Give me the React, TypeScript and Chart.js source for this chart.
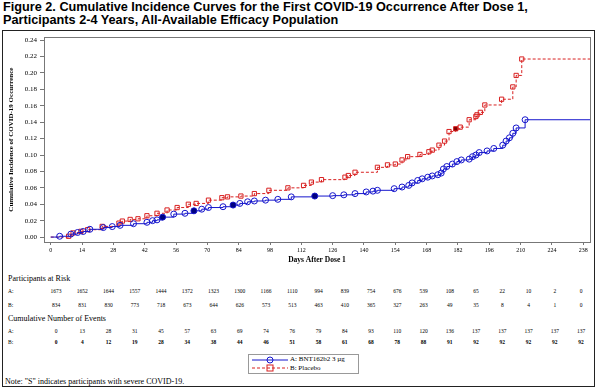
import React, { useEffect, useRef } from 'react';
import { Chart, registerables } from 'chart.js';

Chart.register(...registerables);

const SERIF = '"Liberation Serif", "DejaVu Serif", serif';
const SANS = '"Liberation Sans", Arial, sans-serif';

const titleLines = [
  'Figure 2. Cumulative Incidence Curves for the First COVID-19 Occurrence After Dose 1,',
  'Participants 2-4 Years, All-Available Efficacy Population',
];

const xTicks = [0, 14, 28, 42, 56, 70, 84, 98, 112, 126, 140, 154, 168, 182, 196, 210, 224, 238];
const yTicks = [0, 0.02, 0.04, 0.06, 0.08, 0.1, 0.12, 0.14, 0.16, 0.18, 0.2, 0.22, 0.24];

// Group A: BNT162b2 3 µg (event days, cumulative incidence, severe flag)
const daysA = [4, 9, 12, 14.5, 17.5, 23.5, 27.5, 31, 37, 43, 45.5, 47.5, 50, 55, 60, 64, 67.5, 70.5, 77, 81.5, 84.5, 88, 91, 96, 101.5, 107.5, 118, 126, 131, 136, 141, 144, 146, 153.5, 157, 160, 161.5, 164, 166, 168.5, 170.5, 173, 174.5, 175.5, 177, 179.5, 181.5, 183.5, 187, 188.5, 190, 191.5, 195, 198, 202, 203.5, 205, 206.5, 208, 212];
const incA = [0.001, 0.0036, 0.0056, 0.0068, 0.0095, 0.0116, 0.0128, 0.0143, 0.0163, 0.018, 0.02, 0.021, 0.0243, 0.028, 0.029, 0.032, 0.034, 0.036, 0.037, 0.039, 0.041, 0.043, 0.044, 0.045, 0.046, 0.049, 0.05, 0.0505, 0.0515, 0.053, 0.055, 0.056, 0.057, 0.059, 0.061, 0.063, 0.066, 0.069, 0.071, 0.073, 0.0745, 0.076, 0.078, 0.083, 0.086, 0.089, 0.092, 0.094, 0.095, 0.098, 0.1, 0.103, 0.105, 0.108, 0.112, 0.117, 0.121, 0.1265, 0.133, 0.143];
const severeDaysA = [50, 64, 81.5, 118];

// Group B: Placebo
const daysB = [8, 10, 13.5, 16.5, 23, 30.5, 32, 35.5, 39, 43, 47.5, 52, 56.5, 61.5, 65, 70.5, 76.5, 79, 85, 91, 97.5, 106, 113, 116.5, 121, 131.5, 133, 136, 146, 150.5, 154, 157, 159.5, 165, 169, 170.5, 173.5, 176, 178, 181, 183, 187, 190, 190.5, 192, 194, 201.5, 206.5, 208, 210.5];
const incB = [0.001, 0.005, 0.007, 0.009, 0.013, 0.017, 0.0195, 0.0215, 0.0223, 0.026, 0.029, 0.033, 0.036, 0.04, 0.041, 0.045, 0.048, 0.049, 0.05, 0.053, 0.057, 0.06, 0.063, 0.067, 0.07, 0.073, 0.075, 0.079, 0.085, 0.088, 0.089, 0.094, 0.098, 0.1007, 0.104, 0.106, 0.112, 0.117, 0.1286, 0.132, 0.134, 0.143, 0.147, 0.149, 0.152, 0.161, 0.168, 0.183, 0.197, 0.217];
const severeDaysB = [181];

const xMin = -3;
const xMax = 241;

const atRiskA = [1673, 1652, 1644, 1557, 1444, 1372, 1323, 1300, 1166, 1110, 994, 839, 754, 676, 539, 108, 65, 22, 10, 2, 0];
const atRiskB = [834, 831, 830, 773, 718, 673, 644, 626, 573, 513, 463, 410, 365, 327, 263, 49, 35, 8, 4, 1, 0];
const eventsA = [0, 13, 28, 31, 45, 57, 63, 69, 74, 76, 79, 84, 93, 110, 120, 136, 137, 137, 137, 137, 137];
const eventsB = [0, 4, 12, 19, 28, 34, 38, 44, 46, 51, 58, 61, 68, 78, 88, 91, 92, 92, 92, 92, 92];

const labelA = 'A: BNT162b2 3 \u00b5g';
const labelB = 'B: Placebo';
const noteText = 'Note: "S" indicates participants with severe COVID-19.';

const BLUE = '#1515cc';
const BLUE_FILL = '#000080';
const RED = '#d82020';
const RED_FILL = '#800000';

function buildSeries(days: number[], inc: number[]) {
  const pts = [{ x: 0, y: 0 }];
  days.forEach((d, i) => pts.push({ x: d, y: inc[i] }));
  pts.push({ x: xMax, y: inc[inc.length - 1] });
  return pts;
}

function radii(days: number[]) {
  return [0, ...days.map(() => 3), 0];
}

function fills(days: number[], severe: number[], fill: string) {
  return ['rgba(0,0,0,0)', ...days.map((d) => (severe.includes(d) ? fill : 'rgba(0,0,0,0)')), 'rgba(0,0,0,0)'];
}

const framePlugin = {
  id: 'frame',
  afterDraw(chart: any) {
    const { ctx, chartArea } = chart;
    ctx.save();
    ctx.strokeStyle = '#777';
    ctx.lineWidth = 1;
    ctx.strokeRect(Math.round(chartArea.left) + 0.5, Math.round(chartArea.top) + 0.5, Math.round(chartArea.right - chartArea.left), Math.round(chartArea.bottom - chartArea.top));
    ctx.restore();
  },
};

function ChartCanvas() {
  const ref = useRef<HTMLCanvasElement | null>(null);
  useEffect(() => {
    if (!ref.current) return;
    const chart = new Chart(ref.current, {
      type: 'line',
      data: {
        datasets: [
          {
            label: labelA,
            data: buildSeries(daysA, incA),
            borderColor: BLUE,
            borderWidth: 1,
            stepped: 'before',
            pointStyle: 'circle',
            pointRadius: radii(daysA),
            pointBorderColor: BLUE,
            pointBorderWidth: 1,
            pointBackgroundColor: fills(daysA, severeDaysA, BLUE_FILL),
          },
          {
            label: labelB,
            data: buildSeries(daysB, incB),
            borderColor: RED,
            borderWidth: 1,
            borderDash: [3, 2],
            stepped: 'before',
            pointStyle: 'rect',
            pointRadius: radii(daysB),
            pointBorderColor: RED,
            pointBorderWidth: 1,
            pointBackgroundColor: fills(daysB, severeDaysB, RED_FILL),
          },
        ],
      } as any,
      options: {
        responsive: false,
        animation: false,
        layout: { padding: { left: 0, right: 7, top: 2, bottom: 0 } },
        plugins: { legend: { display: false }, tooltip: { enabled: false } },
        scales: {
          x: {
            type: 'linear',
            min: xMin,
            max: xMax,
            afterBuildTicks: (s: any) => {
              s.ticks = xTicks.map((v) => ({ value: v }));
            },
            afterFit: (s: any) => {
              s.height = 28;
            },
            ticks: {
              font: { family: SERIF, size: 6 },
              color: '#000',
              maxRotation: 0,
              autoSkip: false,
              padding: 2,
              callback: (v: any) => String(v),
            },
            grid: { display: true, drawOnChartArea: false, drawTicks: true, tickLength: 3, color: '#777' },
            border: { display: true, color: '#777' },
            title: {
              display: true,
              text: 'Days After Dose 1',
              font: { family: SERIF, size: 7.5, weight: 'bold' },
              color: '#000',
              padding: { top: 0, bottom: 5 },
            },
          },
          y: {
            type: 'linear',
            min: -0.006,
            max: 0.2436,
            afterBuildTicks: (s: any) => {
              s.ticks = yTicks.map((v) => ({ value: v }));
            },
            afterFit: (s: any) => {
              s.width = 44;
            },
            ticks: {
              font: { family: SERIF, size: 7 },
              color: '#000',
              padding: 3,
              callback: (v: any) => Number(v).toFixed(2),
            },
            grid: { display: true, drawOnChartArea: false, drawTicks: true, tickLength: 4, color: '#777' },
            border: { display: true, color: '#777' },
            title: {
              display: true,
              text: 'Cumulative Incidence of COVID-19 Occurrence',
              font: { family: SERIF, size: 7, weight: 'bold' },
              color: '#000',
              padding: { top: 7, bottom: 0 },
            },
          },
        },
      } as any,
      plugins: [framePlugin],
    });
    return () => chart.destroy();
  }, []);
  return (
    <canvas
      ref={ref}
      width={597}
      height={240}
      style={{ position: 'absolute', left: 0, top: 30, width: 597, height: 240 }}
    />
  );
}

const colX = (i: number) => 56 + i * 26.25;

function Row({ label, values, y, bold }: { label: string; values: number[]; y: number; bold?: boolean }) {
  return (
    <>
      <div style={{ position: 'absolute', left: 8, top: y - 4, fontSize: 5.5, lineHeight: '8px', fontFamily: SERIF }}>{label}</div>
      {values.map((v, i) => (
        <div
          key={i}
          style={{
            position: 'absolute',
            left: colX(i) - 15,
            width: 30,
            textAlign: 'center',
            top: y - 4,
            fontSize: 5.5,
            lineHeight: '8px',
            fontFamily: SERIF,
            fontWeight: bold ? 'bold' : 'normal',
          }}
        >
          {v}
        </div>
      ))}
    </>
  );
}

export default function App() {
  return (
    <div style={{ position: 'absolute', left: 0, top: 0, width: 597, height: 388, background: '#fff', overflow: 'hidden', color: '#000' }}>
      <div style={{ position: 'absolute', left: 3, top: 1, fontFamily: SANS, fontWeight: 'bold', fontSize: 12.7, lineHeight: '13px', whiteSpace: 'nowrap' }}>
        {titleLines.map((t, i) => (
          <div key={i}>{t}</div>
        ))}
      </div>
      <div style={{ position: 'absolute', left: 2, top: 30, width: 591, height: 355, border: '1.5px solid #222' }} />
      <ChartCanvas />
      <div style={{ position: 'absolute', left: 8, top: 274, fontSize: 8, lineHeight: '9px', fontFamily: SERIF }}>Participants at Risk</div>
      <Row label="A:" values={atRiskA} y={291} />
      <Row label="B:" values={atRiskB} y={305} />
      <div style={{ position: 'absolute', left: 8, top: 314, fontSize: 8, lineHeight: '9px', fontFamily: SERIF }}>Cumulative Number of Events</div>
      <Row label="A:" values={eventsA} y={331} />
      <Row label="B:" values={eventsB} y={342} bold />
      <div style={{ position: 'absolute', left: 248, top: 354, width: 109, height: 18, border: '1px solid #999', background: '#fff' }}>
        <svg width={40} height={18} style={{ position: 'absolute', left: 2, top: 0 }}>
          <line x1={1} y1={5} x2={37} y2={5} stroke={BLUE} strokeWidth={1} />
          <circle cx={19} cy={5} r={3} fill="none" stroke={BLUE} strokeWidth={1} />
          <line x1={1} y1={13} x2={37} y2={13} stroke={RED} strokeWidth={1} strokeDasharray="3 2" />
          <rect x={16} y={10} width={6} height={6} fill="none" stroke={RED} strokeWidth={1} />
        </svg>
        <div style={{ position: 'absolute', left: 41, top: 0, fontSize: 7, lineHeight: '9px', fontFamily: SERIF, whiteSpace: 'nowrap' }}>{labelA}</div>
        <div style={{ position: 'absolute', left: 41, top: 9, fontSize: 7, lineHeight: '9px', fontFamily: SERIF, whiteSpace: 'nowrap' }}>{labelB}</div>
      </div>
      <div style={{ position: 'absolute', left: 5, top: 377, fontSize: 8, lineHeight: '9px', fontFamily: SERIF, whiteSpace: 'nowrap' }}>{noteText}</div>
    </div>
  );
}
